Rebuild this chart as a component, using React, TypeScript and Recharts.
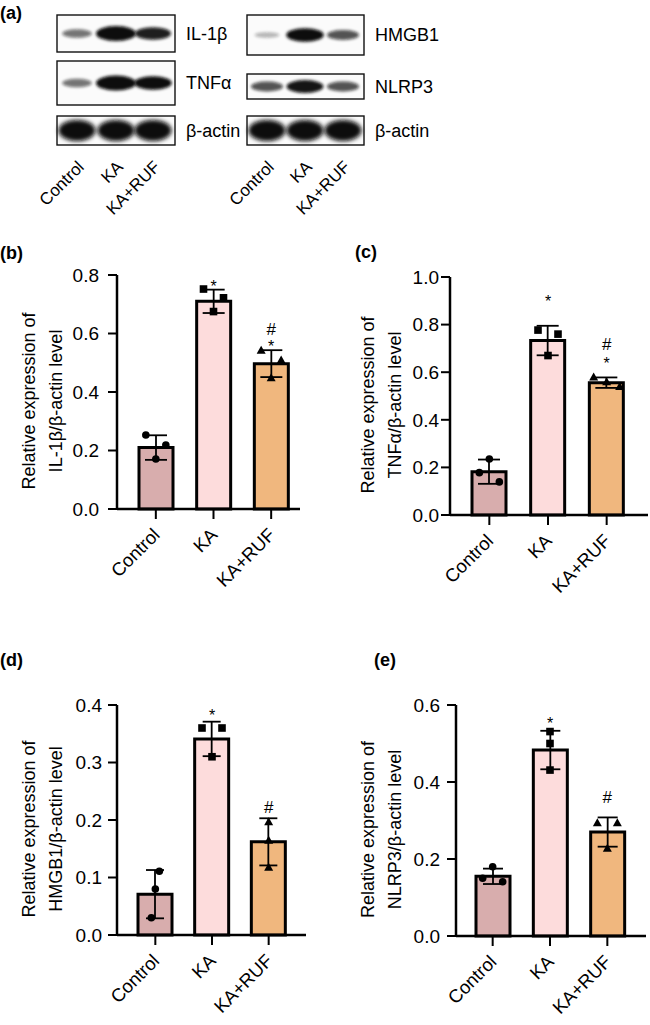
import React from "react";
import { Bar, Cell, ComposedChart, ErrorBar, Label, Scatter, XAxis, YAxis } from "recharts";

const FONT = "'Liberation Sans', Arial, Helvetica, sans-serif";

const groups = ["Control", "KA", "KA+RUF"];
const groupColors = ["#d8adad", "#fddcdc", "#f0b77e"];

// (b) IL-1β / β-actin   points are [left, middle, right]
const il1bMean = [0.21, 0.71, 0.497];
const il1bSd = [0.042, 0.04, 0.046];
const il1bPoints = [[0.253, 0.171, 0.219], [0.752, 0.675, 0.722], [0.543, 0.449, 0.509]];
const il1bSig = ["", "*", "*#"];
const il1bTicks = [0, 0.2, 0.4, 0.6, 0.8];

// (c) TNFα / β-actin
const tnfaMean = [0.182, 0.733, 0.556];
const tnfaSd = [0.051, 0.062, 0.022];
const tnfaPoints = [[0.178, 0.235, 0.139], [0.777, 0.67, 0.76], [0.58, 0.56, 0.54]];
const tnfaSig = ["", "*", "*#"];
const tnfaTicks = [0, 0.2, 0.4, 0.6, 0.8, 1.0];

// (d) HMGB1 / β-actin
const hmgb1Mean = [0.071, 0.341, 0.162];
const hmgb1Sd = [0.042, 0.03, 0.041];
const hmgb1Points = [[0.03, 0.08, 0.111], [0.36, 0.31, 0.36], [0.118, 0.165, 0.197]];
const hmgb1Sig = ["", "*", "#"];
const hmgb1Ticks = [0, 0.1, 0.2, 0.3, 0.4];

// (e) NLRP3 / β-actin
const nlrp3Mean = [0.155, 0.483, 0.27];
const nlrp3Sd = [0.02, 0.05, 0.038];
const nlrp3Points = [[0.15, 0.18, 0.141], [0.431, 0.5, 0.531], [0.294, 0.228, 0.294]];
const nlrp3Sig = ["", "*", "#"];
const nlrp3Ticks = [0, 0.2, 0.4, 0.6];

// (a) western blot band intensities per lane (Control, KA, KA+RUF)
const il1bBands = [0.35, 1, 0.75];
const tnfaBands = [0.35, 1, 0.85];
const hmgb1Bands = [0.05, 0.85, 0.5];
const nlrp3Bands = [0.5, 0.8, 0.5];
const actinBands = [1, 1, 1];

const buildRows = (mean: number[], sd: number[], pts: number[][], sig: string[]) =>
    groups.map((name, i) => ({
        name,
        mean: mean[i],
        sd: sd[i],
        left: pts[i][0],
        mid: pts[i][1],
        right: pts[i][2],
        top: mean[i] + sd[i],
        sig: sig[i],
    }));

type PanelProps = {
    gene: string;
    rows: any[];
    ticks: number[];
    box: { left: number; top: number; width: number; height: number };
    plot: { x0: number; x1: number; y0: number; y1: number };
    pad: { left: number; right: number };
    tickGap: number;
    spread: number[];
    gaps: { lone: number; star: number; hash: number };
    cap: number;
};

function Marker({ cx, cy, gi }: { cx: number; cy: number; gi: number }) {
    if (gi === 0) return <circle cx={cx} cy={cy} r={3.8} fill="#000" />;
    if (gi === 1) return <rect x={cx - 3.8} y={cy - 3.8} width={7.6} height={7.6} fill="#000" />;
    return <polygon points={`${cx},${cy - 4.5} ${cx + 4.5},${cy + 3.5} ${cx - 4.5},${cy + 3.5}`} fill="#000" />;
}

function Panel(p: PanelProps) {
    const yW = 70;
    const xH = 80;
    const margin = {
        top: p.plot.y0 - p.box.top,
        left: p.plot.x0 - p.box.left - yW,
        right: p.box.left + p.box.width - p.plot.x1,
        bottom: p.box.height - (p.plot.y1 - p.box.top) - xH,
    };

    const pointShape = (dir: number) => (props: any) => {
        const { cx, cy, payload } = props;
        if (cx == null || cy == null || isNaN(cy)) return <g />;
        const gi = groups.indexOf(payload.name);
        return <Marker cx={cx + dir * p.spread[gi]} cy={cy} gi={gi} />;
    };

    // significance marks sit above the top of the error bar
    const sigShape = (props: any) => {
        const { cx, cy, payload } = props;
        if (!payload.sig) return <g />;
        const hasStar = payload.sig.includes("*");
        const hasHash = payload.sig.includes("#");
        const out = [];
        if (hasStar) {
            const g = hasHash ? p.gaps.star : p.gaps.lone;
            out.push(
                <text key="s" x={cx} y={cy - g + 9} textAnchor="middle" fontSize={16} fontFamily={FONT}>*</text>
            );
        }
        if (hasHash) {
            out.push(
                <text key="h" x={cx} y={cy - p.gaps.hash + 6} textAnchor="middle" fontSize={17} fontFamily={FONT}>#</text>
            );
        }
        return <g>{out}</g>;
    };

    const catTick = (props: any) => {
        const { x, y, payload } = props;
        const tx = x + 5;
        const ty = y + 15;
        return (
            <text x={tx} y={ty} textAnchor="end" fontSize={18.5} fontFamily={FONT} fill="#000"
                transform={`rotate(-45, ${tx}, ${ty})`}>
                {payload.value}
            </text>
        );
    };

    const title = (props: any) => {
        const vb = props.viewBox;
        const cy = vb.y + vb.height / 2 + 9;
        return (
            <g fontFamily={FONT} fontSize={18} fill="#000">
                <text x={29} y={cy} textAnchor="middle" dominantBaseline="central" transform={`rotate(-90, 29, ${cy})`}>
                    Relative expression of
                </text>
                <text x={56} y={cy} textAnchor="middle" dominantBaseline="central" transform={`rotate(-90, 56, ${cy})`}>
                    {p.gene}/β-actin level
                </text>
            </g>
        );
    };

    return (
        <div style={{ position: "absolute", left: p.box.left, top: p.box.top }}>
            <ComposedChart width={p.box.width} height={p.box.height} data={p.rows} margin={margin}>
                <XAxis
                    dataKey="name"
                    type="category"
                    height={xH}
                    padding={p.pad}
                    interval={0}
                    tick={catTick}
                    tickSize={10}
                    axisLine={{ stroke: "#000", strokeWidth: 2.5 }}
                    tickLine={{ stroke: "#000", strokeWidth: 2 }}
                />
                <YAxis
                    type="number"
                    width={yW}
                    domain={[0, p.ticks[p.ticks.length - 1]]}
                    ticks={p.ticks}
                    interval={0}
                    tickFormatter={(v) => v.toFixed(1)}
                    tickSize={9}
                    tickMargin={p.tickGap}
                    tick={{ fill: "#000", fontSize: 19, fontFamily: FONT }}
                    axisLine={{ stroke: "#000", strokeWidth: 2.5 }}
                    tickLine={{ stroke: "#000", strokeWidth: 2 }}
                >
                    <Label content={title} />
                </YAxis>
                <Bar dataKey="mean" barSize={34} stroke="#000" strokeWidth={3} isAnimationActive={false}>
                    {p.rows.map((r, i) => (
                        <Cell key={r.name} fill={groupColors[i]} />
                    ))}
                    <ErrorBar dataKey="sd" width={p.cap} stroke="#000" strokeWidth={1.8} direction="y" />
                </Bar>
                <Scatter dataKey="left" shape={pointShape(-1)} isAnimationActive={false} />
                <Scatter dataKey="mid" shape={pointShape(0)} isAnimationActive={false} />
                <Scatter dataKey="right" shape={pointShape(1)} isAnimationActive={false} />
                <Scatter dataKey="top" shape={sigShape} isAnimationActive={false} />
            </ComposedChart>
        </div>
    );
}

function Band({ x, y, v, actin }: { x: number; y: number; v: number; actin?: boolean }) {
    if (actin) {
        return <ellipse cx={x} cy={y} rx={18.5} ry={10.5} fill="#080808" filter="url(#blurBig)" />;
    }
    const rx = (24 + 16 * v) / 2;
    const ry = 2.5 + 5 * v;
    const op = Math.min(1, 0.25 + 0.9 * v);
    return <ellipse cx={x} cy={y} rx={rx} ry={ry} fill="#0a0a0a" opacity={op} filter="url(#blur)" />;
}

function Blot() {
    const leftLanes = [77, 116, 153];
    const rightLanes = [267, 305, 343];
    const leftRows = [
        { label: "IL-1β", y0: 15, y1: 52, bands: il1bBands, actin: false },
        { label: "TNFα", y0: 61, y1: 105, bands: tnfaBands, actin: false },
        { label: "β-actin", y0: 116, y1: 145, bands: actinBands, actin: true },
    ];
    const rightRows = [
        { label: "HMGB1", y0: 15, y1: 55, bands: hmgb1Bands, actin: false },
        { label: "NLRP3", y0: 74, y1: 99, bands: nlrp3Bands, actin: false },
        { label: "β-actin", y0: 116, y1: 145, bands: actinBands, actin: true },
    ];
    const drawGroup = (lanes: number[], rows: typeof leftRows, bx0: number, bx1: number) => (
        <g>
            {rows.map((r) => (
                <g key={r.label + bx0}>
                    <rect x={bx0} y={r.y0} width={bx1 - bx0} height={r.y1 - r.y0} fill="#fbfbfb" stroke="#111" strokeWidth={1.4} />
                    {lanes.map((lx, i) => (
                        <Band key={i} x={lx} y={(r.y0 + r.y1) / 2} v={r.bands[i]} actin={r.actin} />
                    ))}
                    <text x={bx1 + 11} y={(r.y0 + r.y1) / 2 + 6} fontSize={18} fontFamily={FONT}>{r.label}</text>
                </g>
            ))}
            {groups.map((g, i) => {
                const tx = lanes[i] + 8;
                const ty = 168;
                return (
                    <text key={g} x={tx} y={ty} textAnchor="end" fontSize={17} fontFamily={FONT}
                        transform={`rotate(-45, ${tx}, ${ty})`}>{g}</text>
                );
            })}
        </g>
    );
    return (
        <g>
            <defs>
                <filter id="blur" x="-50%" y="-100%" width="200%" height="300%">
                    <feGaussianBlur stdDeviation="1.6" />
                </filter>
                <filter id="blurBig" x="-50%" y="-100%" width="200%" height="300%">
                    <feGaussianBlur stdDeviation="2.2" />
                </filter>
            </defs>
            {drawGroup(leftLanes, leftRows, 57, 175)}
            {drawGroup(rightLanes, rightRows, 247, 364)}
        </g>
    );
}

export default function App() {
    const tags = [
        { t: "(a)", x: 0, y: 19 },
        { t: "(b)", x: 0, y: 259 },
        { t: "(c)", x: 355, y: 258 },
        { t: "(d)", x: 0, y: 666 },
        { t: "(e)", x: 374, y: 666 },
    ];
    return (
        <div style={{ position: "absolute", left: 0, top: 0, width: 650, height: 1025, background: "#fff", fontFamily: FONT }}>
            <svg width={650} height={1025} style={{ position: "absolute", left: 0, top: 0 }}>
                <Blot />
                {tags.map((t) => (
                    <text key={t.t} x={t.x} y={t.y} fontSize={18} fontWeight="bold" fontFamily={FONT}>{t.t}</text>
                ))}
            </svg>
            <Panel gene="IL-1β"
                rows={buildRows(il1bMean, il1bSd, il1bPoints, il1bSig)} ticks={il1bTicks}
                box={{ left: 0, top: 262, width: 320, height: 370 }}
                plot={{ x0: 117, x1: 300, y0: 275, y1: 509 }}
                pad={{ left: 10, right: 0 }} tickGap={9} spread={[10, 10, 10]}
                gaps={{ lone: 7, star: 7, hash: 21 }} cap={11} />
            <Panel gene="TNFα"
                rows={buildRows(tnfaMean, tnfaSd, tnfaPoints, tnfaSig)} ticks={tnfaTicks}
                box={{ left: 339, top: 262, width: 311, height: 370 }}
                plot={{ x0: 450, x1: 648, y0: 277, y1: 515 }}
                pad={{ left: 10, right: 12 }} tickGap={2} spread={[10, 10, 13]}
                gaps={{ lone: 28, star: 17, hash: 33 }} cap={11} />
            <Panel gene="HMGB1"
                rows={buildRows(hmgb1Mean, hmgb1Sd, hmgb1Points, hmgb1Sig)} ticks={hmgb1Ticks}
                box={{ left: 0, top: 690, width: 320, height: 335 }}
                plot={{ x0: 117, x1: 306, y0: 705, y1: 935 }}
                pad={{ left: 10, right: 9 }} tickGap={6} spread={[4, 10, 0]}
                gaps={{ lone: 10, star: 10, hash: 11 }} cap={9} />
            <Panel gene="NLRP3"
                rows={buildRows(nlrp3Mean, nlrp3Sd, nlrp3Points, nlrp3Sig)} ticks={nlrp3Ticks}
                box={{ left: 339, top: 690, width: 311, height: 335 }}
                plot={{ x0: 456, x1: 646, y0: 705, y1: 936 }}
                pad={{ left: 8, right: 10 }} tickGap={7} spread={[10, 0, 10]}
                gaps={{ lone: 11, star: 11, hash: 20 }} cap={10} />
        </div>
    );
}
